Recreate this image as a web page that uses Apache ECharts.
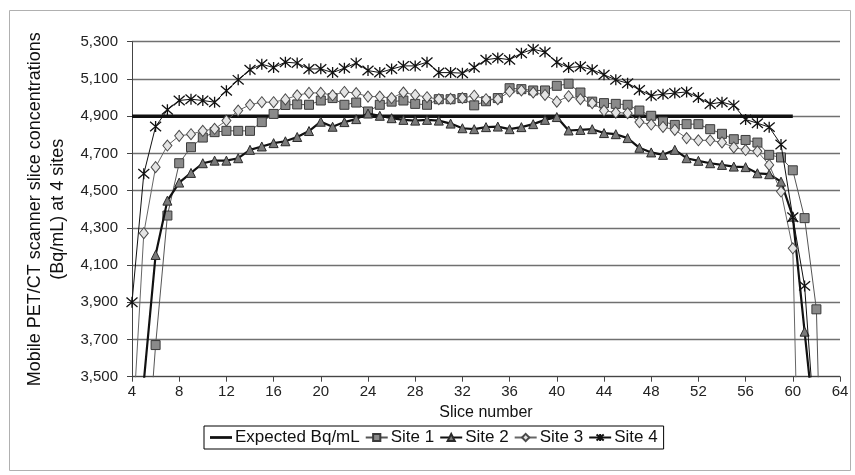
<!DOCTYPE html>
<html><head><meta charset="utf-8">
<script src="https://cdn.jsdelivr.net/npm/echarts/dist/echarts.min.js"></script>
<style>html,body{margin:0;padding:0;background:#fff}#c{width:855px;height:475px}</style>
</head><body><div id="c"></div>
<script>
// ---- data ----
const expectedSlices = [4, 60];
const expectedValue = 4900;

const site1Start = 5;
const site1 = [2820,3670,4366,4647,4733,4785,4814,4821,4821,4821,4868,4912,4960,4963,4961,4984,4997,4961,4973,4925,
  4961,4978,4984,4966,4961,4991,4991,4997,4958,4980,4997,5050,5045,5038,5038,5063,5074,5027,4978,4970,
  4966,4961,4930,4902,4871,4853,4857,4857,4830,4805,4776,4772,4758,4692,4678,4609,4352,3862,1450];

const site2Start = 5;
const site2 = [3473,4154,4446,4543,4595,4647,4661,4661,4674,4719,4737,4755,4765,4788,4820,4870,4843,4868,4884,4914,
  4902,4889,4880,4876,4880,4876,4860,4835,4830,4841,4844,4830,4841,4857,4880,4895,4823,4826,4830,4809,
  4803,4782,4730,4705,4692,4719,4674,4660,4647,4638,4629,4626,4593,4588,4548,4360,3742,3137];

const site3Start = 4;
const site3 = [3154,4271,4626,4742,4794,4803,4821,4832,4876,4930,4961,4975,4975,4990,5012,5025,5025,5012,5030,5024,
  5005,5005,4997,5027,5014,5002,4991,4993,4997,5010,4991,4991,5032,5038,5027,5014,4978,5007,4991,4970,
  4930,4919,4916,4868,4855,4842,4826,4782,4770,4770,4759,4732,4718,4711,4638,4495,4190,1500];

const site4Start = 4;
const site4 = [3900,4590,4844,4934,4984,4991,4984,4975,5036,5095,5149,5179,5161,5190,5185,5153,5154,5134,5158,5185,
  5145,5134,5153,5170,5170,5190,5134,5134,5131,5161,5203,5212,5203,5238,5260,5244,5190,5161,5167,5149,
  5122,5095,5077,5041,5010,5018,5024,5030,5000,4965,4975,4958,4882,4862,4841,4748,4357,3988,3100];

const xMin = 4, xMax = 64, xStep = 4;
const yMin = 3500, yMax = 5300, yStep = 200;
const names = ['Expected Bq/mL', 'Site 1', 'Site 2', 'Site 3', 'Site 4'];

// ---- chart ----
const toPairs = (start, vals) => vals.map((v, i) => [start + i, v]);
const starPath = 'path://M0,-5L0,5M-4.3,-4.3L4.3,4.3M-4.3,4.3L4.3,-4.3';
const font = '"Liberation Sans", Arial, sans-serif';

const chart = echarts.init(document.getElementById('c'), null, {renderer: 'canvas'});
chart.setOption({
  animation: false,
  backgroundColor: '#fff',
  textStyle: {fontFamily: font, color: '#222'},
  graphic: [{
    type: 'rect', left: 7, top: 8, shape: {width: 841, height: 460},
    style: {fill: 'none', stroke: '#b0b0b0', lineWidth: 1}, z: -1
  }],
  grid: {left: 132, right: 15, top: 41.7, bottom: 98.3},
  legend: {
    data: [{name: names[0], icon: 'path://M0,0L80,0L80,10L0,10Z'}].concat(names.slice(1)),
    left: 204, top: 426,
    padding: [3, 6],
    borderColor: '#000', borderWidth: 1,
    itemWidth: 22, itemHeight: 9, itemGap: 5,
    textStyle: {fontFamily: font, fontSize: 17, color: '#111', padding: [0, 0, 0, -2]}
  },
  xAxis: {
    type: 'value', min: xMin, max: xMax, interval: xStep,
    name: 'Slice number', nameLocation: 'middle', nameGap: 26,
    nameTextStyle: {fontFamily: font, fontSize: 16, color: '#111'},
    axisLine: {show: true, lineStyle: {color: '#444', width: 1}},
    axisTick: {show: true, length: 5, lineStyle: {color: '#444'}},
    axisLabel: {fontFamily: font, fontSize: 15, color: '#222', margin: 8},
    splitLine: {show: false}
  },
  yAxis: {
    type: 'value', min: yMin, max: yMax, interval: yStep,
    name: 'Mobile PET/CT scanner slice concentrations\n(Bq/mL) at 4 sites',
    nameLocation: 'middle', nameRotate: 90, nameGap: 54,
    nameTextStyle: {fontFamily: font, fontSize: 18, lineHeight: 23, color: '#111', align: 'center'},
    axisLine: {show: true, lineStyle: {color: '#444', width: 1}},
    axisTick: {show: true, length: 5, lineStyle: {color: '#444'}},
    axisLabel: {fontFamily: font, fontSize: 15, color: '#222', margin: 14,
      formatter: v => v.toLocaleString('en-US')},
    splitLine: {show: true, lineStyle: {color: '#707070', width: 1.3}}
  },
  series: [
    {
      name: names[0], type: 'line', symbol: 'none', showSymbol: false,
      data: expectedSlices.map(s => [s, expectedValue]),
      lineStyle: {color: '#111', width: 3.5}, itemStyle: {color: '#111'}, z: 1
    },
    {
      name: names[1], type: 'line', data: toPairs(site1Start, site1),
      symbol: 'rect', symbolSize: 9,
      lineStyle: {color: '#555', width: 1},
      itemStyle: {color: '#8a8a8a', borderColor: '#3a3a3a', borderWidth: 1}, z: 3
    },
    {
      name: names[2], type: 'line', data: toPairs(site2Start, site2),
      symbol: 'triangle', symbolSize: 9,
      lineStyle: {color: '#111', width: 2.2},
      itemStyle: {color: '#7a7a7a', borderColor: '#2a2a2a', borderWidth: 1}, z: 4
    },
    {
      name: names[3], type: 'line', data: toPairs(site3Start, site3),
      symbol: 'diamond', symbolSize: [9, 11],
      lineStyle: {color: '#666', width: 1},
      itemStyle: {color: '#e4e4e4', borderColor: '#4a4a4a', borderWidth: 1}, z: 5
    },
    {
      name: names[4], type: 'line', data: toPairs(site4Start, site4),
      symbol: starPath, symbolSize: 11,
      lineStyle: {color: '#111', width: 1},
      itemStyle: {color: '#111', borderColor: '#111', borderWidth: 1.3}, z: 6
    }
  ]
});
</script>
</body></html>
